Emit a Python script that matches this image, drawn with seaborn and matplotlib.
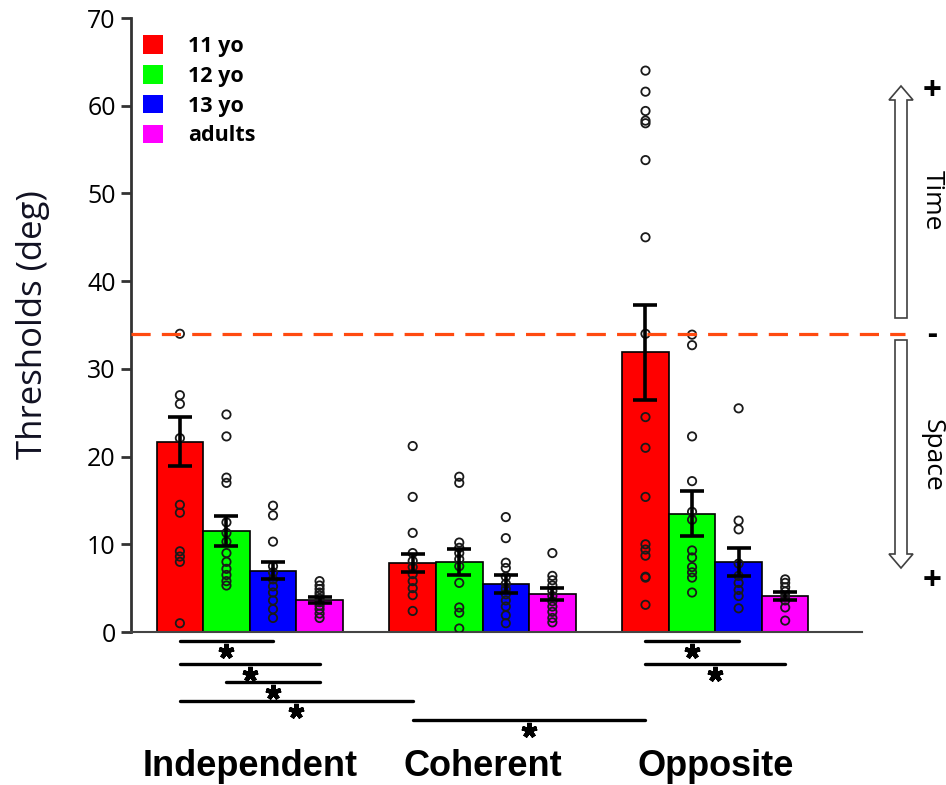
import numpy as np
import pandas as pd
import matplotlib
matplotlib.use("Agg")
import matplotlib.pyplot as plt
from matplotlib.patches import Patch, FancyArrow
import seaborn as sns

# ── data ─────────────────────────────────────────────────
conditions = ["Independent", "Coherent", "Opposite"]
ages       = ["11 yo", "12 yo", "13 yo", "adults"]
colors     = ["#FF0000", "#00FF00", "#0000FF", "#FF00FF"]

# mean thresholds (deg), one value per condition
mean_thr = {
    "11 yo" : [21.7, 7.85, 31.9],
    "12 yo" : [11.5, 8.0, 13.5],
    "13 yo" : [7.0, 5.45, 8.0],
    "adults": [3.6, 4.3, 4.1],
}
sem_thr = {
    "11 yo" : [2.8, 1.05, 5.4],
    "12 yo" : [1.75, 1.5, 2.6],
    "13 yo" : [1.0, 1.05, 1.6],
    "adults": [0.35, 0.7, 0.5],
}

# individual observers
indep_pts = {
    "11 yo" : [34.0, 27.0, 26.0, 22.1, 14.5, 13.6, 9.2, 8.6, 8.0, 1.0],
    "12 yo" : [24.8, 22.3, 17.6, 17.0, 12.5, 11.3, 10.3, 9.0, 8.0, 7.2, 6.5, 5.8, 5.3],
    "13 yo" : [14.4, 13.3, 10.3, 7.5, 6.8, 6.0, 5.2, 4.5, 3.6, 2.6, 1.6],
    "adults": [5.8, 5.3, 4.9, 4.5, 4.2, 3.8, 3.4, 3.0, 2.6, 2.1, 1.6],
}
coher_pts = {
    "11 yo" : [21.2, 15.4, 11.3, 9.0, 8.1, 7.4, 6.6, 5.8, 5.0, 4.2, 2.4],
    "12 yo" : [17.7, 17.0, 10.2, 9.6, 9.0, 8.3, 7.5, 5.6, 2.8, 2.2, 0.4],
    "13 yo" : [13.1, 10.7, 7.9, 7.3, 6.3, 5.5, 4.9, 4.3, 3.6, 2.9, 1.9, 1.0],
    "adults": [9.0, 6.4, 5.9, 5.3, 4.7, 4.1, 3.5, 2.9, 2.3, 1.6, 1.1],
}
oppos_pts = {
    "11 yo" : [64.0, 61.6, 59.4, 58.3, 58.0, 53.8, 45.0, 34.0, 24.5, 21.0, 15.4, 10.0, 9.4, 8.7, 6.3, 6.2, 3.1],
    "12 yo" : [33.9, 32.7, 22.3, 17.2, 13.7, 12.8, 9.3, 8.5, 7.4, 6.8, 6.2, 4.5],
    "13 yo" : [25.5, 12.7, 11.7, 7.8, 6.4, 5.6, 4.8, 4.1, 2.7],
    "adults": [6.0, 5.6, 5.1, 4.6, 4.1, 3.6, 2.8, 1.3],
}

chance_thr = 34.0

# significant comparisons  (condition, age) vs (condition, age)
sig_pairs = [
    (("Independent", "11 yo"), ("Independent", "13 yo")),
    (("Independent", "11 yo"), ("Independent", "adults")),
    (("Independent", "12 yo"), ("Independent", "adults")),
    (("Independent", "11 yo"), ("Coherent", "11 yo")),
    (("Coherent", "11 yo"),    ("Opposite", "11 yo")),
    (("Opposite", "11 yo"),    ("Opposite", "13 yo")),
    (("Opposite", "11 yo"),    ("Opposite", "adults")),
]
sig_level = [-1.0, -3.6, -5.7, -7.9, -10.0, -1.0, -3.6]

# ── tables ───────────────────────────────────────────────
bars = pd.DataFrame([{"cond": c, "age": a, "thr": mean_thr[a][i], "sem": sem_thr[a][i]}
                     for a in ages for i, c in enumerate(conditions)])
rows = []
for c, d in zip(conditions, [indep_pts, coher_pts, oppos_pts]):
    for a in ages:
        rows += [{"cond": c, "age": a, "thr": v} for v in d[a]]
pts = pd.DataFrame(rows)

# ── plot ─────────────────────────────────────────────────
sns.set_style("white")
plt.rcParams["font.family"] = ["Open Sans", "DejaVu Sans"]
for k in ["text.color", "axes.labelcolor", "xtick.labelcolor", "ytick.labelcolor"]:
    plt.rcParams[k] = "black"

W, H = 946, 785
fig = plt.figure(figsize=(W/100, H/100), dpi=100)
ax = fig.add_axes([131/W, 1-632/H, (862-131)/W, (632-18)/H])

sns.barplot(data=bars, x="cond", y="thr", hue="age", order=conditions,
            hue_order=ages, palette=colors, errorbar=None, saturation=1,
            edgecolor="black", linewidth=1.2, legend=False, ax=ax)

# bar centres from the drawn containers
centre = {}
for a, cont in zip(ages, ax.containers):
    for c, b in zip(conditions, cont):
        centre[(c, a)] = b.get_x() + b.get_width()/2

sns.stripplot(data=pts, x="cond", y="thr", hue="age", order=conditions,
              hue_order=ages, palette=colors, dodge=True, jitter=False,
              size=6, linewidth=1.3, edgecolor="#1a1a1a", legend=False,
              ax=ax, zorder=3)
for coll in ax.collections:
    coll.set_facecolor("none")
    coll.set_edgecolor("#1a1a1a")

xs = [centre[(r.cond, r.age)] for r in bars.itertuples()]
ax.errorbar(xs, bars["thr"], yerr=bars["sem"], fmt="none", ecolor="black",
            elinewidth=2.6, capsize=8.5, capthick=2.6, zorder=4)

ax.axhline(chance_thr, xmin=0, xmax=(905-131)/(862-131), color="#FF4A10",
           lw=2.3, dashes=(6, 3.5), clip_on=False, zorder=5)

# significance bars
for (p1, p2), yl in zip(sig_pairs, sig_level):
    x1, x2 = centre[p1], centre[p2]
    ax.plot([x1, x2], [yl, yl], color="black", lw=2.4, clip_on=False,
            solid_capstyle="round")
    ax.plot([(x1+x2)/2], [yl-1.15], marker=(5, 2, 0), ms=11, mew=3.2,
            color="black", clip_on=False)

ax.set_ylim(0, 70)
ax.set_xlim(-0.51, 2.63)
ax.set_yticks(range(0, 71, 10))
ax.set_xlabel("")
ax.set_ylabel("Thresholds (deg)", fontsize=25, color="#111122", labelpad=27)
ax.set_xticks(range(3))
ax.set_xticklabels(conditions, fontsize=26, fontweight="bold", color="black",
                   family=["Liberation Sans", "DejaVu Sans"])
ax.tick_params(axis="x", length=0, pad=84)
ax.tick_params(axis="y", direction="out", length=7, width=2, color="#333333",
               labelsize=18, pad=4, left=True)
for s in ["top", "right"]:
    ax.spines[s].set_visible(False)
ax.spines["left"].set_linewidth(2)
ax.spines["left"].set_color("#333333")
ax.spines["bottom"].set_linewidth(1.5)
ax.spines["bottom"].set_color("#444444")

handles = [Patch(facecolor=c, edgecolor="none", label=a) for c, a in zip(colors, ages)]
ax.legend(handles=handles, loc="upper left", bbox_to_anchor=(0.016, 0.972),
          frameon=False, borderpad=0, borderaxespad=0, handlelength=0.95,
          handleheight=0.95, labelspacing=0.38, handletextpad=1.15,
          labelcolor="black",
          prop={"family": "Open Sans", "weight": "bold", "size": 15.5})

# time / space arrows on the right
ax_x = 901/W
fig.add_artist(FancyArrow(ax_x, 1-318/H, 0, (318-86)/H, width=12/W,
                          head_width=24/W, head_length=14/H,
                          length_includes_head=True, fc="white", ec="#404040",
                          lw=1.2, transform=fig.transFigure))
fig.add_artist(FancyArrow(ax_x, 1-340/H, 0, -(568-340)/H, width=12/W,
                          head_width=24/W, head_length=14/H,
                          length_includes_head=True, fc="white", ec="#404040",
                          lw=1.2, transform=fig.transFigure))
fig.text(932/W, 1-92/H, "+", fontsize=24, fontweight="bold", ha="center", va="center")
fig.text(932/W, 1-335/H, "-", fontsize=22, fontweight="bold", ha="center", va="center")
fig.text(932/W, 1-582/H, "+", fontsize=24, fontweight="bold", ha="center", va="center")
fig.text(932/W, 1-200/H, "Time", fontsize=19, ha="center", va="center",
         rotation=-90)
fig.text(932/W, 1-455/H, "Space", fontsize=19, ha="center", va="center",
         rotation=-90)

fig.savefig("out.png", dpi=100)
